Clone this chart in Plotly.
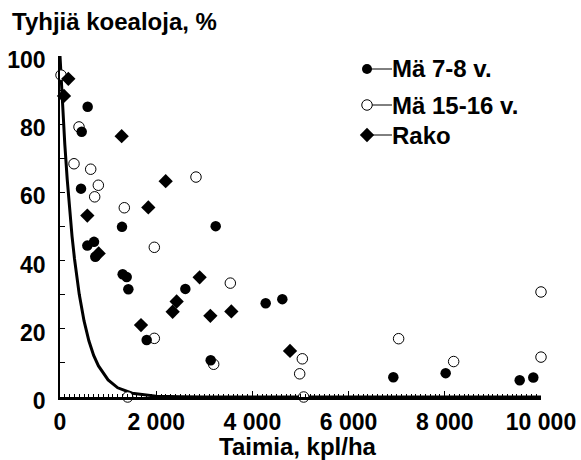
import plotly.graph_objects as go

# ---------------- data ----------------
ma78_x = [575, 451, 437, 1289, 3237, 568, 707, 734, 1303, 1386, 1421, 2606,
          4276, 4622, 1802, 3133, 6930, 8018, 9557, 9840]
ma78_y = [85.1, 77.8, 61.1, 49.9, 50.1, 44.4, 45.5, 41.1, 36.0, 35.2, 31.6, 31.7,
          27.5, 28.7, 16.7, 10.8, 5.8, 7.0, 4.9, 5.7]

ma1516_x = [21, 395, 291, 638, 2827, 797, 721, 1337, 1961, 3541, 1961, 3195,
            1407, 5038, 4983, 5066, 7040, 8184, 10000, 10000]
ma1516_y = [94.4, 79.2, 68.4, 66.8, 64.5, 62.1, 58.7, 55.5, 43.9, 33.4, 17.2, 9.6,
            0.0, 11.2, 6.8, 0.0, 17.1, 10.4, 30.8, 11.7]

rako_x = [173, 83, 1282, 2197, 1836, 568, 804, 2903, 2425, 2342, 3126, 3562, 1684, 4782]
rako_y = [93.3, 88.3, 76.5, 63.3, 55.6, 53.2, 42.1, 35.1, 28.0, 25.0, 23.8, 25.1, 21.1, 13.5]

# fitted curve
curve_x = [0, 25, 50, 75, 100, 150, 200, 250, 300, 400, 500, 600, 700, 800,
           1000, 1200, 1500, 2000, 2500, 3000, 10000]
curve_y = [100, 92.8, 86.1, 79.9, 74.1, 63.8, 54.9, 47.2, 40.7, 30.1, 22.3, 16.5,
           12.2, 9.1, 5.0, 2.7, 1.1, 0.25, 0.06, 0.01, 0]

x_tickvals = [0, 2000, 4000, 6000, 8000, 10000]
x_ticktext = ["0", "2 000", "4 000", "6 000", "8 000", "10 000"]
y_tickvals = [0, 20, 40, 60, 80, 100]
y_ticktext = ["0", "20", "40", "60", "80", "100"]

series_names = ["Mä 7-8 v.", "Mä 15-16 v.", "Rako"]
y_title = "Tyhjiä koealoja, %"
x_title = "Taimia, kpl/ha"

# ---------------- layout helpers (pixel -> paper) ----------------
W, H = 581, 460
L, R, T, B = 60, 40, 56, 63
PW, PH = W - L - R, H - T - B


def px(x):
    return (x - L) / PW


def py(y):
    return (H - B - y) / PH


FONT = "Liberation Sans, Arial, Helvetica, sans-serif"
FS_TICK = 23
FS_TEXT = 24

fig = go.Figure()

fig.add_trace(go.Scatter(x=curve_x, y=curve_y, mode="lines",
                         line=dict(color="black", width=3), hoverinfo="skip"))

fig.add_trace(go.Scatter(x=ma1516_x, y=ma1516_y, mode="markers", cliponaxis=False,
                         marker=dict(symbol="circle", size=10.5, color="white",
                                     line=dict(color="black", width=1))))
fig.add_trace(go.Scatter(x=ma78_x, y=ma78_y, mode="markers", cliponaxis=False,
                         marker=dict(symbol="circle", size=10.5, color="black",
                                     line=dict(width=0))))
fig.add_trace(go.Scatter(x=rako_x, y=rako_y, mode="markers", cliponaxis=False,
                         marker=dict(symbol="diamond", size=11, color="black",
                                     line=dict(width=0))))

# ---------------- manual legend (overlay axis in pixel units) ----------------
leg_rows = [69, 105, 135]
leg_mx = 367
leg_lx = 392
leg_styles = [
    dict(symbol="circle", size=10, color="black", line=dict(width=0)),
    dict(symbol="circle", size=10.5, color="white", line=dict(color="black", width=1)),
    dict(symbol="diamond", size=11, color="black", line=dict(width=0)),
]
txtfont = dict(family=FONT, size=FS_TEXT, color="black", weight="bold")
for yy, st, name in zip(leg_rows, leg_styles, series_names):
    fig.add_trace(go.Scatter(x=[leg_mx, leg_lx], y=[yy, yy], mode="lines",
                             line=dict(color="black", width=1),
                             xaxis="x2", yaxis="y2", hoverinfo="skip"))
    fig.add_trace(go.Scatter(x=[leg_mx], y=[yy], mode="markers", marker=st,
                             xaxis="x2", yaxis="y2", hoverinfo="skip"))
    fig.add_annotation(x=px(leg_lx - 2), y=py(yy), xref="paper", yref="paper",
                       text=name, showarrow=False, xanchor="left", yanchor="middle",
                       font=txtfont)

# axis titles as annotations
fig.add_annotation(x=px(10), y=py(21), xref="paper", yref="paper", text=y_title,
                   showarrow=False, xanchor="left", yanchor="middle", font=txtfont)
fig.add_annotation(x=px(298), y=py(446.5), xref="paper", yref="paper", text=x_title,
                   showarrow=False, xanchor="center", yanchor="middle", font=txtfont)

tickfont = dict(family=FONT, size=FS_TICK, color="black", weight="bold")

fig.update_layout(
    width=W, height=H,
    margin=dict(l=L, r=R, t=T, b=B, autoexpand=False),
    paper_bgcolor="white", plot_bgcolor="white",
    showlegend=False,
    xaxis=dict(range=[0, 10000], showgrid=False, zeroline=False, automargin=False,
               showline=True, linecolor="black", linewidth=2.5,
               ticks="inside", ticklen=6, tickwidth=1, tickcolor="black",
               tickvals=x_tickvals, ticktext=x_ticktext, tickfont=tickfont,
               ticklabelstandoff=3,
               minor=dict(dtick=100, ticks="inside", ticklen=3, tickwidth=1,
                          tickcolor="black", showgrid=False)),
    yaxis=dict(range=[0, 100], showgrid=False, zeroline=False, automargin=False,
               showline=True, linecolor="black", linewidth=1.5,
               ticks="inside", ticklen=5, tickwidth=1, tickcolor="black",
               tickvals=y_tickvals, ticktext=y_ticktext, tickfont=tickfont,
               ticklabelstandoff=8, ticklabelshift=4,
               minor=dict(dtick=10, ticks="inside", ticklen=5, tickwidth=1,
                          tickcolor="black", showgrid=False)),
    xaxis2=dict(range=[L, W - R], overlaying="x", anchor="y2", visible=False,
                automargin=False),
    yaxis2=dict(range=[H - B, T], overlaying="y", anchor="x2", visible=False,
                automargin=False),
)

fig.write_html("out.html")
